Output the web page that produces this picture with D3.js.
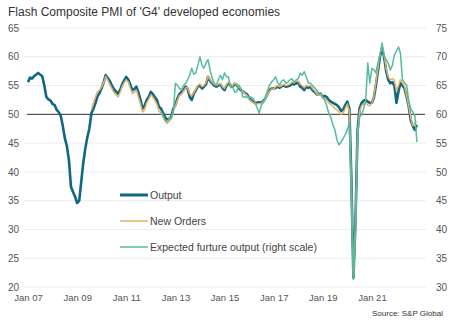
<!DOCTYPE html>
<meta charset="utf-8">
<style>
body { margin: 0; background: #fff; }
svg text { font-family: "Liberation Sans", Arial, sans-serif; }
.tick text { font-size: 10px; fill: #555; }
.xlab text { font-size: 9.5px; fill: #555; }
.legend text { font-size: 10.5px; fill: #444; }
</style>
<body>
<svg id="svg" width="452" height="327"></svg>
<script src="https://cdnjs.cloudflare.com/ajax/libs/d3/7.8.5/d3.min.js"></script>
<script>

// monthly values
var outputStart = "2007-01";
var output = [
  55.6, 56.4, 56.2, 56.6, 56.9, 57.2, 56.9, 56.6, 55.0, 53.0, 52.6, 52.4,
  51.8, 51.6, 50.8, 50.4, 49.8, 48.0, 45.9, 44.5, 42.0, 37.4, 36.5, 35.7,
  34.6, 35.0, 38.1, 41.5, 44.0, 46.0, 47.5, 50.2, 51.0, 52.0, 53.2, 53.7,
  54.6, 55.6, 56.8, 56.3, 55.8, 55.0, 54.4, 54.0, 53.6, 54.2, 55.2, 55.9,
  56.5, 56.0, 55.2, 54.2, 54.4, 54.8, 53.8, 52.5, 51.0, 51.5, 52.5, 53.0,
  53.9, 53.5, 53.0, 52.5, 51.3, 51.0, 50.2, 49.5, 49.0, 49.2, 49.6, 51.0,
  51.6, 52.8, 53.5, 53.9, 54.2, 54.8, 54.5, 53.0, 52.5, 53.6, 54.2, 54.8,
  55.0, 54.5, 54.8, 55.2, 56.5, 55.8, 55.4, 55.0, 54.8, 55.0, 55.2, 54.6,
  54.2, 55.0, 55.4, 55.1, 54.8, 55.3, 55.1, 54.6, 54.2, 54.0, 53.7, 53.5,
  52.8, 52.5, 52.2, 52.0, 52.0, 52.1, 52.0, 52.3, 52.8, 53.5, 54.2, 54.5,
  54.5, 54.6, 54.8, 54.6, 54.9, 55.0, 54.8, 54.9, 55.0, 55.3, 55.2, 55.4,
  55.5, 54.8, 54.6, 54.2, 54.8, 54.6, 54.8, 54.2, 53.9, 53.5, 53.4, 53.6,
  53.0, 53.2, 53.0, 52.5, 52.2, 52.0, 51.8, 51.6, 51.2, 50.6, 50.8, 51.6,
  52.2, 51.0, 38.8, 21.6, 31.0, 47.0, 51.0, 52.0, 52.4, 52.5, 52.2, 52.0,
  52.0, 53.0, 55.0, 57.5, 60.0, 61.5, 60.0, 57.5, 56.0, 55.4, 55.6, 55.0,
  52.0, 54.0, 55.4, 55.0, 54.5, 53.0, 51.5, 49.0, 48.0, 47.3, 48.2
];

var ordersStart = "2009-08";
var newOrders = [
  50.8, 52.0, 53.0, 54.0, 54.2,
  54.8, 55.5, 56.6, 56.0, 55.2, 54.5, 53.8, 53.4, 53.0, 53.8, 54.8, 55.5,
  56.0, 55.6, 54.6, 53.6, 53.8, 54.2, 53.0, 51.8, 50.4, 50.8, 52.0, 52.6,
  53.4, 53.0, 52.4, 51.8, 50.6, 50.2, 49.5, 48.8, 48.4, 48.8, 49.2, 50.6,
  51.4, 52.5, 53.2, 53.5, 54.0, 54.6, 54.6, 53.6, 53.2, 53.8, 54.4, 55.0,
  55.3, 54.8, 55.0, 55.5, 56.6, 56.0, 55.6, 55.2, 55.0, 55.2, 55.4, 54.8,
  54.5, 55.2, 55.6, 55.3, 55.0, 55.4, 55.2, 54.8, 54.4, 54.0, 53.6, 53.3,
  52.6, 52.3, 52.0, 51.8, 51.8, 51.9, 51.9, 52.2, 52.7, 53.4, 54.0, 54.4,
  54.4, 54.8, 55.0, 54.8, 55.0, 55.2, 55.0, 55.1, 55.3, 55.6, 55.5, 55.8,
  55.8, 55.2, 55.0, 54.6, 55.0, 54.9, 55.0, 54.5, 54.1, 53.6, 53.3, 53.4,
  52.7, 52.8, 52.5, 52.0, 51.7, 51.4, 51.0, 50.8, 50.4, 50.0, 50.3, 51.0,
  51.8, 50.6, 37.5, 21.8, 30.5, 46.5, 50.5, 51.5, 51.8, 52.0, 51.6, 51.5,
  52.0, 53.2, 55.5, 58.0, 60.5, 62.0, 60.5, 58.0, 56.5, 56.0, 56.2, 56.0,
  54.0, 55.0, 56.0, 55.5, 54.8, 53.2, 51.5, 49.5, 48.0, 48.5, 48.8
];

// right scale
var expectedStart = "2012-06";
var expected = [
  60.5, 59.8, 59.0, 58.8, 59.2, 59.5, 60.5,
  65.4, 65.0, 64.5, 64.2, 65.0, 65.4, 66.0, 66.8, 68.0, 67.0, 67.2, 68.5,
  70.0, 68.5, 68.0, 68.9, 69.5, 67.7, 66.3, 65.4, 65.0, 66.0, 66.8, 66.0,
  67.2, 66.5, 66.5, 64.6, 64.8, 63.9, 63.9, 65.1, 64.5, 63.0, 63.0, 63.0,
  63.0, 63.0, 62.8, 62.0, 61.1, 60.2, 61.6, 62.0, 63.0, 64.0, 65.1, 65.6,
  66.0, 66.5, 65.5, 65.1, 65.8, 66.0, 65.4, 65.6, 66.0, 66.2, 65.5, 66.0,
  66.2, 67.2, 66.8, 67.4, 66.5, 65.4, 65.4, 65.0, 64.6, 64.2, 63.7, 63.7,
  63.0, 62.5, 61.5, 60.2, 59.5, 58.2, 57.3, 55.5, 54.7, 55.2, 55.8, 56.5,
  57.3, 58.5, 48.0, 31.3, 40.0, 56.0, 59.5, 60.0, 61.0, 62.5, 68.9, 65.4,
  68.0, 67.7, 67.2, 69.0, 70.0, 72.4, 70.0, 69.5, 68.9, 67.7, 68.5, 70.3,
  71.0, 71.7, 70.6, 66.0, 65.5, 65.1, 62.5, 61.0, 60.4, 59.9, 55.2
];

var leftTicks = [20, 25, 30, 35, 40, 45, 50, 55, 60, 65];
var rightTicks = [30, 35, 40, 45, 50, 55, 60, 65, 70, 75];
var xTickYears = [2007, 2009, 2011, 2013, 2015, 2017, 2019, 2021];

var colOutput = "#0f6783", colOrders = "#e6b166", colExpected = "#55bba1";

var svg = d3.select("#svg");
var parseMonth = d3.timeParse("%Y-%m");

function series(start, vals) {
  var t0 = parseMonth(start);
  return vals.map(function(v, i) { return {date: d3.timeMonth.offset(t0, i), value: v}; });
}

var x = d3.scaleTime()
    .domain([new Date(2007, 0, 1), new Date(2023, 0, 1)])
    .range([28, 421]);
var yL = d3.scaleLinear().domain([20, 65]).range([287, 28]);
var yR = d3.scaleLinear().domain([30, 75]).range([287, 28]);

var gridX0 = 24, gridX1 = 426;

// gridlines
svg.append("g").selectAll("line")
  .data(leftTicks)
  .enter().append("line")
    .attr("x1", gridX0).attr("x2", gridX1)
    .attr("y1", function(d) { return yL(d); })
    .attr("y2", function(d) { return yL(d); })
    .attr("stroke", "#ececec")
    .attr("stroke-width", 1);

// axes (labels only)
var axL = svg.append("g")
    .attr("class", "axis")
    .attr("transform", "translate(19,0)")
    .call(d3.axisLeft(yL).tickValues(leftTicks).tickSize(0).tickPadding(0));
axL.select(".domain").remove();

var axR = svg.append("g")
    .attr("class", "axis")
    .attr("transform", "translate(436,0)")
    .call(d3.axisRight(yR).tickValues(rightTicks).tickSize(0).tickPadding(0));
axR.select(".domain").remove();

var axX = svg.append("g")
    .attr("class", "xlab")
    .attr("transform", "translate(0,294)")
    .call(d3.axisBottom(x)
      .tickValues(xTickYears.map(function(y) { return new Date(y, 0, 1); }))
      .tickFormat(d3.timeFormat("Jan %y"))
      .tickSize(0).tickPadding(0));
axX.select(".domain").remove();

// 50 line
svg.append("line")
    .attr("x1", 27).attr("x2", 425)
    .attr("y1", yL(50)).attr("y2", yL(50))
    .attr("stroke", "#333")
    .attr("stroke-width", 1);

var lineL = d3.line()
    .x(function(d) { return x(d.date); })
    .y(function(d) { return yL(d.value); });
var lineR = d3.line()
    .x(function(d) { return x(d.date); })
    .y(function(d) { return yR(d.value); });

svg.append("path")
    .datum(series(outputStart, output))
    .attr("d", lineL)
    .attr("fill", "none")
    .attr("stroke", colOutput)
    .attr("stroke-width", 2.6)
    .attr("stroke-linejoin", "round");

svg.append("path")
    .datum(series(ordersStart, newOrders))
    .attr("d", lineL)
    .attr("fill", "none")
    .attr("stroke", colOrders)
    .attr("stroke-width", 1.5)
    .attr("stroke-linejoin", "round");

svg.append("path")
    .datum(series(expectedStart, expected))
    .attr("d", lineR)
    .attr("fill", "none")
    .attr("stroke", colExpected)
    .attr("stroke-width", 1.5)
    .attr("stroke-linejoin", "round");

// legend
var legendItems = [
  {name: "Output", color: colOutput, w: 3},
  {name: "New Orders", color: colOrders, w: 1.5},
  {name: "Expected furture output (right scale)", color: colExpected, w: 1.5}
];
var lg = svg.append("g").attr("class", "legend");
var item = lg.selectAll("g")
  .data(legendItems)
  .enter().append("g")
    .attr("transform", function(d, i) { return "translate(120," + (195 + i * 26) + ")"; });
item.append("line")
    .attr("x1", 0).attr("x2", 28)
    .attr("stroke", function(d) { return d.color; })
    .attr("stroke-width", function(d) { return d.w; });
item.append("text")
    .attr("x", 30)
    .attr("dy", "0.35em")
    .text(function(d) { return d.name; });

// title and source
svg.append("text")
    .attr("x", 8).attr("y", 16)
    .style("font-size", "12px")
    .style("fill", "#333")
    .text("Flash Composite PMI of 'G4' developed economies");

svg.append("text")
    .attr("x", 443).attr("y", 316)
    .attr("text-anchor", "end")
    .style("font-size", "8px")
    .style("fill", "#333")
    .text("Source: S&P Global");

</script>
</body>
